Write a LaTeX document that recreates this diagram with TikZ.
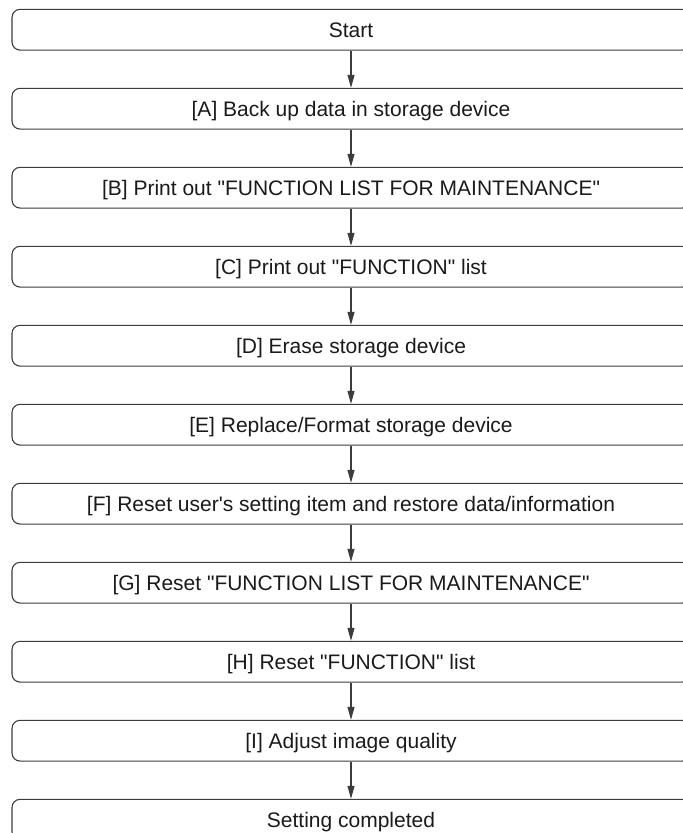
\documentclass[tikz,border=0pt]{standalone}
\usepackage{fontspec}
\setmainfont{Liberation Sans}
\usetikzlibrary{positioning, arrows.meta}
\definecolor{linea}{HTML}{3C3C3C}
\definecolor{testo}{HTML}{1A1A1A}

\begin{document}
\begin{tikzpicture}[x=1pt, y=1pt, node distance=37.2pt,
    passo/.style={draw=linea, line width=1.1pt, rounded corners=8pt, minimum width=678pt, minimum height=40.7pt, inner sep=0pt, text=testo, text height=15pt, text depth=0pt, font=\fontsize{21}{24}\selectfont},
    freccia/.style={draw=linea, line width=1.1pt, -{Triangle[length=13pt, width=7pt]}}]
    %area visibile
    \useasboundingbox (0,0) rectangle (683,-833);
    \clip (0,0) rectangle (683,-833);
    %passi
    \node[passo] (start) at (351,-29.7) {Start};
    \node[passo, below=of start] (a) {[A] Back up data in storage device};
    \node[passo, below=of a] (b) {[B] Print out \textquotedbl FUNCTION LIST FOR MAINTENANCE\textquotedbl};
    \node[passo, below=of b] (c) {[C] Print out \textquotedbl FUNCTION\textquotedbl{} list};
    \node[passo, below=of c] (d) {[D] Erase storage device};
    \node[passo, below=of d] (e) {[E] Replace/Format storage device};
    \node[passo, below=of e] (f) {[F] Reset user\textquotesingle s setting item and restore data/information};
    \node[passo, below=of f] (g) {[G] Reset \textquotedbl FUNCTION LIST FOR MAINTENANCE\textquotedbl};
    \node[passo, below=of g] (h) {[H] Reset \textquotedbl FUNCTION\textquotedbl{} list};
    \node[passo, below=of h] (i) {[I] Adjust image quality};
    \node[passo, below=of i] (fine) {Setting completed};
    %frecce
    \draw[freccia] (start) -- (a);
    \draw[freccia] (a) -- (b);
    \draw[freccia] (b) -- (c);
    \draw[freccia] (c) -- (d);
    \draw[freccia] (d) -- (e);
    \draw[freccia] (e) -- (f);
    \draw[freccia] (f) -- (g);
    \draw[freccia] (g) -- (h);
    \draw[freccia] (h) -- (i);
    \draw[freccia] (i) -- (fine);
\end{tikzpicture}
\end{document}
